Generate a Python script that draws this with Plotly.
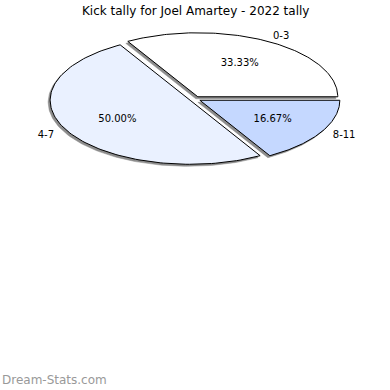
import numpy as np
import plotly.graph_objects as go

# ---- data ----
labels = ["0-3", "4-7", "8-11"]
values = [2, 3, 1]
colors = ["#ffffff", "#eaf1ff", "#c5d8ff"]
title = "Kick tally for Joel Amartey - 2022 tally"
watermark = "Dream-Stats.com"

# ---- geometry (pixel space of the 390x390 page) ----
CX, CY = 195.0, 99.0
RX, RY = 140.0, 64.0
EXPLODE = 0.04
SHADOW_DX, SHADOW_DY = -2.0, 2.0

total = float(sum(values))
fracs = [v / total for v in values]

fig = go.Figure()

slices = []
start = 0.0
for lab, frac, col in zip(labels, fracs, colors):
    a0 = start
    a1 = start + frac * 2 * np.pi
    mid = (a0 + a1) / 2
    cx = CX + EXPLODE * RX * np.cos(mid)
    cy = CY - EXPLODE * RY * np.sin(mid)
    t = np.linspace(a0, a1, 120)
    xs = np.concatenate([[cx], cx + RX * np.cos(t), [cx]])
    ys = np.concatenate([[cy], cy - RY * np.sin(t), [cy]])
    slices.append((lab, frac, col, mid, cx, cy, xs, ys))
    start = a1

# shadows
for lab, frac, col, mid, cx, cy, xs, ys in slices:
    fig.add_trace(go.Scatter(x=xs + SHADOW_DX, y=ys + SHADOW_DY, mode="lines",
                             fill="toself", fillcolor="#8c8c8c",
                             line=dict(color="#8c8c8c", width=0.5),
                             hoverinfo="skip", showlegend=False))
# slices
for lab, frac, col, mid, cx, cy, xs, ys in slices:
    fig.add_trace(go.Scatter(x=xs, y=ys, mode="lines", fill="toself",
                             fillcolor=col, line=dict(color="#000000", width=1),
                             hoverinfo="skip", showlegend=False))

# percentage labels
fig.add_trace(go.Scatter(
    x=[s[4] + 0.6 * RX * np.cos(s[3]) for s in slices],
    y=[s[5] - 0.6 * RY * np.sin(s[3]) for s in slices],
    mode="text", text=["%.2f%%" % (s[1] * 100) for s in slices],
    textfont=dict(family="DejaVu Sans", size=10, color="#000"),
    hoverinfo="skip", showlegend=False))
# category labels
fig.add_trace(go.Scatter(
    x=[s[4] + 1.19 * RX * np.cos(s[3]) for s in slices],
    y=[s[5] - 1.09 * RY * np.sin(s[3]) for s in slices],
    mode="text", text=[s[0] for s in slices],
    textfont=dict(family="DejaVu Sans", size=10, color="#000"),
    hoverinfo="skip", showlegend=False))

fig.update_layout(
    width=390, height=390,
    margin=dict(l=0, r=0, t=0, b=0),
    paper_bgcolor="white", plot_bgcolor="white",
    xaxis=dict(range=[0, 390], visible=False, fixedrange=True),
    yaxis=dict(range=[390, 0], visible=False, fixedrange=True),
    annotations=[
        dict(text=title, x=195, y=11, xref="x", yref="y", showarrow=False,
             font=dict(family="DejaVu Sans", size=12, color="#000")),
        dict(text=watermark, x=0, y=380, xref="x", yref="y", xanchor="left",
             showarrow=False,
             font=dict(family="DejaVu Sans", size=12, color="#999999")),
    ],
)

fig.write_html("out.html")
